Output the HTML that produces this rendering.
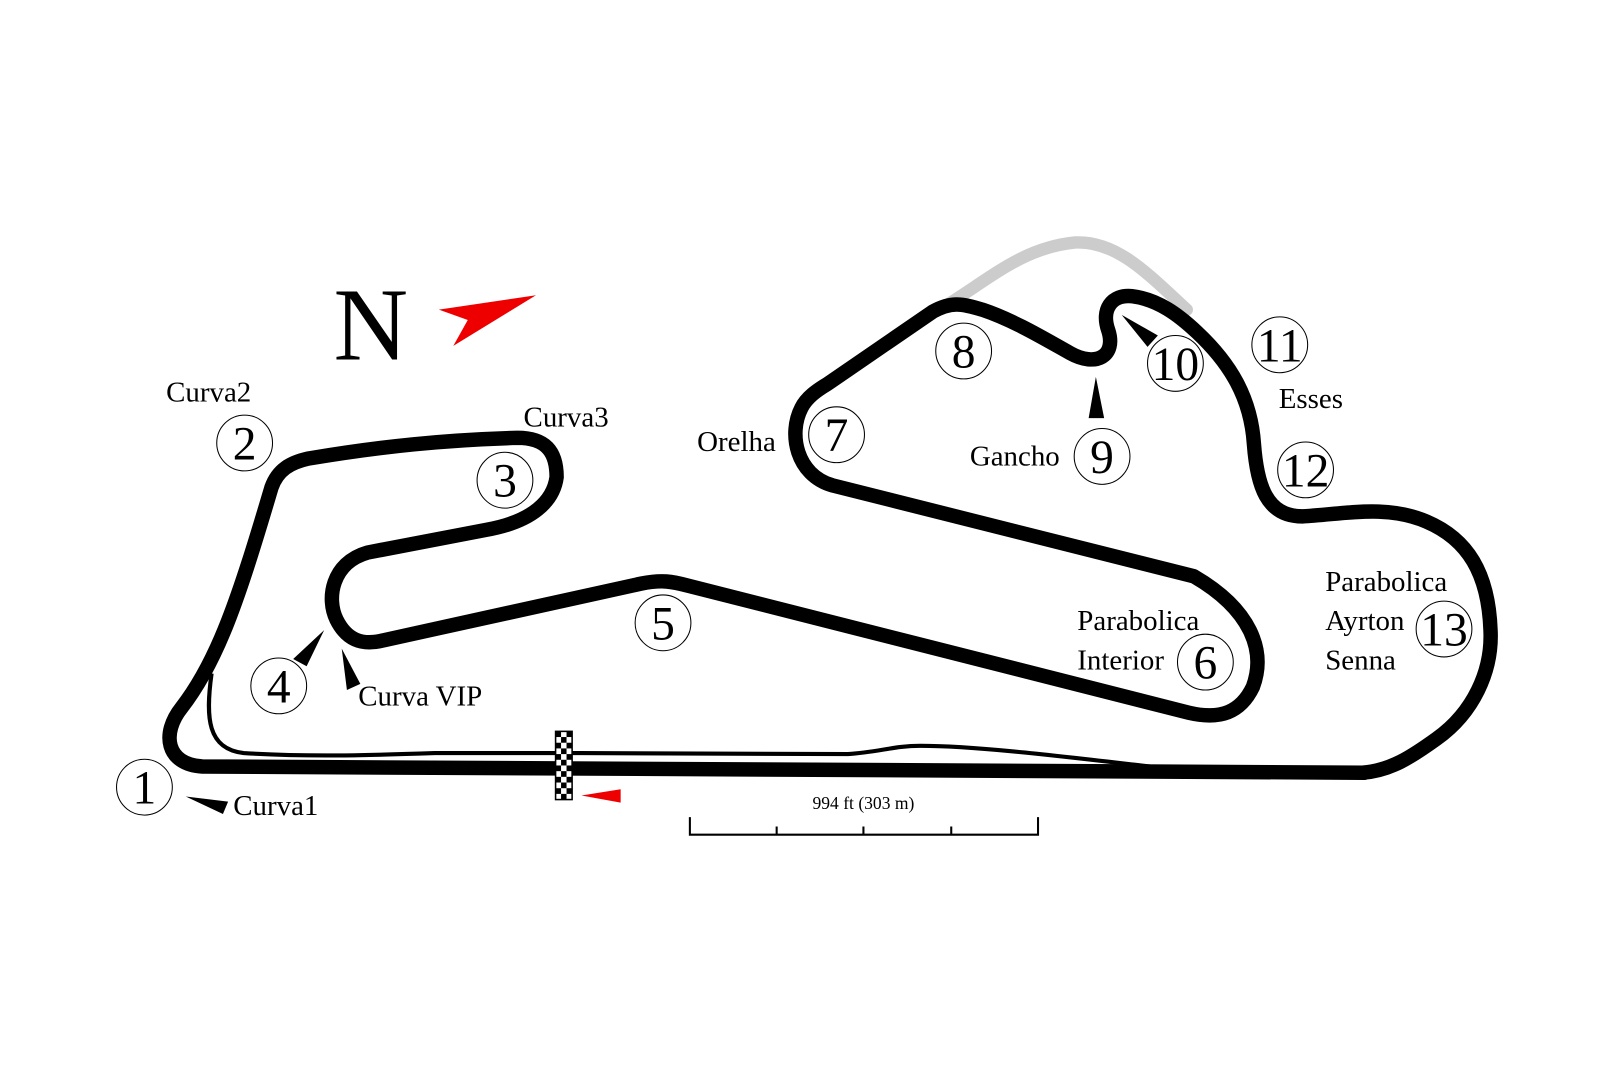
<!DOCTYPE html>
<html><head><meta charset="utf-8"><style>
html,body{margin:0;padding:0;background:#fff;}
svg{display:block}
text{font-family:"Liberation Serif",serif;fill:#000}
</style></head><body>
<svg width="1620" height="1080" viewBox="0 0 1560 1040" xmlns="http://www.w3.org/2000/svg">
<rect width="1560" height="1040" fill="#fff"/>
<g transform="translate(0.8,-0.4) scale(0.9948,0.9953)">
<path d="M915,296 C960,268 990,240 1040,235 C1080,233 1110,265 1148,300" fill="none" stroke="#cccccc" stroke-width="12" stroke-linecap="round"/>
<path d="M204,652 C198,695 200,725 235,729 C300,733 360,731 420,729 L560,729 L820,730 C850,728 865,722 890,722 C950,722 1050,735 1130,744" fill="none" stroke="#000" stroke-width="4"/>
<path d="M1320,748 L195,742 C160,740 155,710 175,685 C210,640 230,580 262,472 C268,455 280,448 298,444 C370,432 430,426 500,424 C530,424 538,440 538,462 C535,485 515,505 470,513 L355,535 C320,545 315,580 325,600 C335,620 350,625 370,620 L620,565 C640,561 650,563 665,567 L1150,690 C1180,697 1200,690 1212,665 C1225,630 1210,590 1155,558 L805,470 C770,460 762,420 775,395 C780,385 790,378 800,372 L902,302 C920,292 930,294 950,300 C980,310 1010,328 1035,342 C1060,356 1080,345 1072,320 C1065,300 1075,285 1095,287 C1120,290 1140,305 1158,322 C1190,352 1210,385 1213,430 C1216,470 1225,500 1260,500 C1300,498 1340,488 1380,505 C1420,522 1440,555 1442,610 C1444,650 1425,690 1390,715 C1365,733 1345,746 1318,748 Z" fill="none" stroke="#000" stroke-width="14" stroke-linejoin="round"/>
<g transform="translate(537,708)">
<rect x="0" y="0" width="16" height="66" fill="#fff" stroke="#000" stroke-width="1.5"/>
<g fill="#000">
<rect x="0" y="0" width="5.3" height="5.5"/><rect x="10.6" y="0" width="5.4" height="5.5"/><rect x="5.3" y="5.5" width="5.3" height="5.5"/>
<rect x="0" y="11" width="5.3" height="5.5"/><rect x="10.6" y="11" width="5.4" height="5.5"/><rect x="5.3" y="16.5" width="5.3" height="5.5"/>
<rect x="0" y="22" width="5.3" height="5.5"/><rect x="10.6" y="22" width="5.4" height="5.5"/><rect x="5.3" y="27.5" width="5.3" height="5.5"/>
<rect x="0" y="33" width="5.3" height="5.5"/><rect x="10.6" y="33" width="5.4" height="5.5"/><rect x="5.3" y="38.5" width="5.3" height="5.5"/>
<rect x="0" y="44" width="5.3" height="5.5"/><rect x="10.6" y="44" width="5.4" height="5.5"/><rect x="5.3" y="49.5" width="5.3" height="5.5"/>
<rect x="0" y="55" width="5.3" height="5.5"/><rect x="10.6" y="55" width="5.4" height="5.5"/><rect x="5.3" y="60.5" width="5.3" height="5.5"/>
</g></g>
<polygon points="562,770 600,764 600,777" fill="#e00"/>
<text x="322" y="348" font-size="100">N</text>
<polygon points="424,300 518,286 438,335 452,310" fill="#e00"/>
<polygon points="179,771 220,776 215,788" fill="#000"/>
<polygon points="283,638 313,610 296,645" fill="#000"/>
<polygon points="330,628 348,662 335,668" fill="#000"/>
<polygon points="1060,365 1068,405 1053,405" fill="#000"/>
<polygon points="1085,305 1120,325 1110,336" fill="#000"/>
<g fill="none" stroke="#000" stroke-width="1">
<circle cx="139" cy="762" r="27"/><circle cx="236" cy="429" r="27"/><circle cx="488" cy="465" r="27"/>
<circle cx="269" cy="664" r="27"/><circle cx="641" cy="603" r="27"/><circle cx="1166" cy="641" r="27"/>
<circle cx="809" cy="421" r="27"/><circle cx="932" cy="340" r="27"/><circle cx="1066" cy="442" r="27"/>
<circle cx="1137" cy="352" r="27"/><circle cx="1238" cy="334" r="27"/><circle cx="1263" cy="455" r="27"/>
<circle cx="1397" cy="609" r="27"/>
</g>
<g font-size="46" text-anchor="middle">
<text x="139" y="778">1</text><text x="236" y="445">2</text><text x="488" y="481">3</text>
<text x="269" y="680">4</text><text x="641" y="619">5</text><text x="1166" y="657">6</text>
<text x="809" y="437">7</text><text x="932" y="356">8</text><text x="1066" y="458">9</text>
<text x="1137" y="368">10</text><text x="1238" y="350">11</text><text x="1263" y="471">12</text>
<text x="1397" y="625">13</text>
</g>
<g font-size="28">
<text x="225" y="789">Curva1</text>
<text x="160" y="389">Curva2</text>
<text x="506" y="413">Curva3</text>
<text x="346" y="683">Curva VIP</text>
<text x="674" y="437">Orelha</text>
<text x="938" y="451">Gancho</text>
<text x="1237" y="395">Esses</text>
<text x="1042" y="610">Parabolica</text>
<text x="1042" y="648">Interior</text>
<text x="1282" y="572">Parabolica</text>
<text x="1282" y="610">Ayrton</text>
<text x="1282" y="648">Senna</text>
</g>
<text x="835" y="783" font-size="17" text-anchor="middle">994 ft (303 m)</text>
<g stroke="#000" stroke-width="2" fill="none">
<path d="M667,791 L667,808 L1004,808 L1004,791"/>
<path d="M751,800 L751,808 M835,800 L835,808 M920,800 L920,808"/>
</g>
</g>
</svg>
</body></html>
